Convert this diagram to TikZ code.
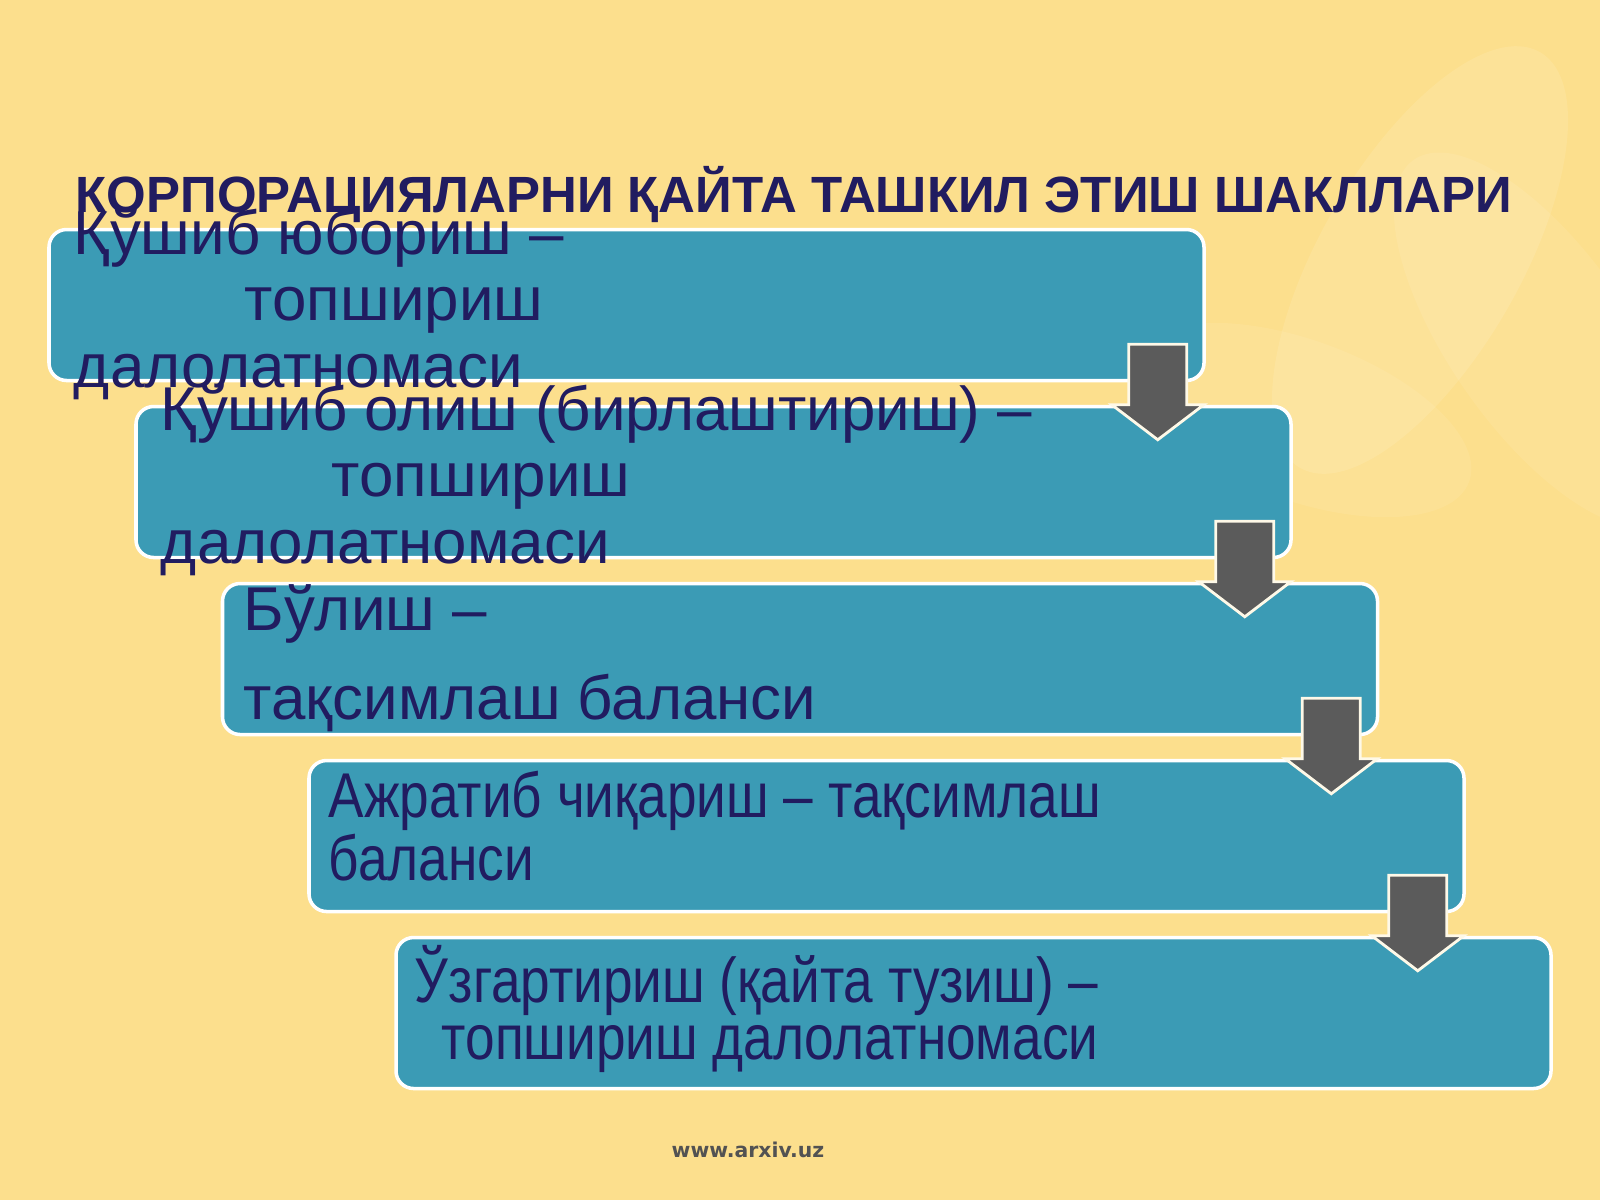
\documentclass[tikz,border=0pt]{standalone}
\usepackage{fontspec}
\setmainfont{Liberation Sans}
\newfontfamily\narrowsans[FakeStretch=0.84]{Liberation Sans}
\newfontfamily\urlfont{DejaVu Sans}
\usetikzlibrary{positioning,calc}
\definecolor{slideYellow}{HTML}{FCDF8D}
\definecolor{boxTeal}{HTML}{3B9BB5}
\definecolor{inkNavy}{HTML}{211C60}
\definecolor{arrowGrey}{HTML}{5B5B5B}
\tikzset{
  formbox/.style={draw=white, line width=1pt, fill=boxTeal, rounded corners=5pt,
    minimum width=11.55cm, minimum height=1.51cm, inner sep=0pt},
  boxtext/.style={anchor=base west, inner sep=0pt, align=left, text=inkNavy,
    font=\fontsize{17.6}{19}\selectfont},
  narrowtext/.style={boxtext, font=\narrowsans\fontsize{18}{16.2}\selectfont},
  downarrow/.style={draw=white!80!slideYellow, line width=0.8pt, fill=arrowGrey},
}
% arrow from the lower right of box #1 into box #2
\newcommand{\flowarrow}[2]{%
 \coordinate (#1top) at ($(#1.south east)+(-0.48,0.38)$);
 \coordinate (#1head) at (#1top |- #2.north);
 \draw[downarrow] ($(#1top)+(-0.29,0)$) -- ($(#1top)+(0.29,0)$)
   -- ($(#1head)+(0.29,0)$) -- ($(#1head)+(0.46,0)$) -- ($(#1head)+(0,-0.35)$)
   -- ($(#1head)+(-0.46,0)$) -- ($(#1head)+(-0.29,0)$) -- cycle;}

\begin{document}
\begin{tikzpicture}
\useasboundingbox (0,0) rectangle (16,-12);
% background
\fill[slideYellow] (0,0) rectangle (16,-12);
\begin{scope}
\clip (0,0) rectangle (16,-12);
\fill[white, opacity=0.10, rotate around={-30:(14.2,-2.6)}] (14.2,-2.6) ellipse (1.0cm and 2.4cm);
\fill[white, opacity=0.08, rotate around={35:(15.4,-3.4)}] (15.4,-3.4) ellipse (0.9cm and 2.2cm);
\fill[white, opacity=0.07, rotate around={70:(13.0,-4.2)}] (13.0,-4.2) ellipse (0.8cm and 1.8cm);
\end{scope}

\node[anchor=base, text=inkNavy, font=\bfseries\fontsize{14.5}{16}\selectfont] (title) at (7.94,-2.12)
  {КОРПОРАЦИЯЛАРНИ ҚАЙТА ТАШКИЛ ЭТИШ ШАКЛЛАРИ};

\node[formbox] (b1) at (6.265,-3.05) {};
\node[formbox] (b2) at (7.135,-4.82) {};
\node[formbox] (b3) at (8.0,-6.59) {};
\node[formbox] (b4) at (8.865,-8.36) {};
\node[formbox] (b5) at (9.735,-10.13) {};

\flowarrow{b1}{b2}
\flowarrow{b2}{b3}
\flowarrow{b3}{b4}
\flowarrow{b4}{b5}

% anchors sit on the baseline of the last line
\node[boxtext] (t1) at ($(b1.north west)+(0.26,-1.60)$)
  {Қўшиб юбориш –\\\hspace*{1.71cm}топшириш\\далолатномаси};
\node[boxtext] (t2) at ($(b2.north west)+(0.26,-1.59)$)
  {Қўшиб олиш (бирлаштириш) –\\\hspace*{1.71cm}топшириш\\далолатномаси};
\node[boxtext] (t3) at ($(b3.north west)+(0.22,-1.38)$)
  {Бўлиш –\\[0.22cm]тақсимлаш баланси};
\node[narrowtext] (t4) at ($(b4.north west)+(0.21,-1.22)$)
  {Ажратиб чиқариш – тақсимлаш\\баланси};
\node[narrowtext, align=right] (t5) at ($(b5.north west)+(0.20,-1.24)$)
  {Ўзгартириш (қайта тузиш) –\\топшириш далолатномаси};

\node[text=black!68, font=\urlfont\bfseries\fontsize{5.8}{7}\selectfont] (url) at (7.48,-11.5) {www.arxiv.uz};
\end{tikzpicture}
\end{document}
